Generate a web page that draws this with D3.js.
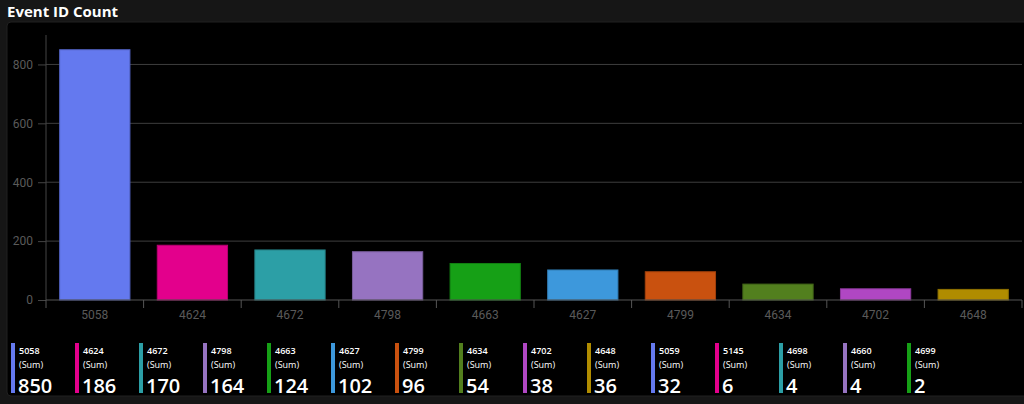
<!DOCTYPE html>
<html>
<head>
<meta charset="utf-8">
<script src="https://cdn.jsdelivr.net/npm/d3@7/dist/d3.min.js"></script>
<style>
  html, body { margin: 0; padding: 0; background: #161616; }
  svg { display: block; font-family: "Open Sans", "Segoe UI", sans-serif; }
</style>
</head>
<body>
<div id="chart"></div>
<script>
const width = 1024,
    height = 404;

// bars
const eventIds = ["5058", "4624", "4672", "4798", "4663", "4627", "4799", "4634", "4702", "4648"];
const counts = [850, 186, 170, 164, 124, 102, 96, 54, 38, 36];
const barColors = ["#6479ef", "#e3008c", "#2c9fa6", "#9673c1", "#16a016", "#3d98dc", "#c9510f", "#527f1e", "#b047c3", "#b08c00"];

// legend cards (top 15)
const cardIds = ["5058", "4624", "4672", "4798", "4663", "4627", "4799", "4634", "4702", "4648", "5059", "5145", "4698", "4660", "4699"];
const cardValues = [850, 186, 170, 164, 124, 102, 96, 54, 38, 36, 32, 6, 4, 4, 2];
const cardColors = ["#6479ef", "#e3008c", "#2c9fa6", "#9673c1", "#16a016", "#3d98dc", "#c9510f", "#527f1e", "#b047c3", "#b08c00",
    "#6479ef", "#e3008c", "#2c9fa6", "#9673c1", "#16a016"];

const yTicks = [0, 200, 400, 600, 800];

const svg = d3.select("#chart").append("svg")
    .attr("width", width)
    .attr("height", height);

// title + panel
svg.append("text")
    .attr("x", 7)
    .attr("y", 17)
    .attr("fill", "#fff")
    .attr("font-size", 15)
    .attr("font-weight", "bold")
    .text("Event ID Count");

svg.append("rect")
    .attr("x", 7)
    .attr("y", 22)
    .attr("width", width + 10)
    .attr("height", 374)
    .attr("rx", 4)
    .attr("fill", "#000")
    .attr("stroke", "#202020");

const x = d3.scaleBand()
    .domain(eventIds)
    .range([46, 1022])
    .padding(0);

const y = d3.scaleLinear()
    .domain([0, 900])
    .range([300, 35]);

// gridlines
svg.append("g")
    .selectAll("line")
    .data(yTicks.slice(1))
    .join("line")
    .attr("x1", 46)
    .attr("x2", 1022)
    .attr("y1", d => y(d))
    .attr("y2", d => y(d))
    .attr("stroke", "#3e3e3e");

// y axis
const yAxis = svg.append("g")
    .attr("transform", "translate(46,0)")
    .call(d3.axisLeft(y).tickValues(yTicks).tickSize(8).tickPadding(5));
yAxis.select(".domain").attr("stroke", "#444").attr("d", "M0,35V300");
yAxis.selectAll(".tick line").attr("stroke", "#444");
yAxis.selectAll(".tick text")
    .attr("fill", "#5a5a5a")
    .attr("font-size", 12)
    .attr("font-family", "Roboto, sans-serif");

// bars
const barW = x.bandwidth() * 0.72;
svg.append("g")
    .selectAll("rect")
    .data(eventIds)
    .join("rect")
    .attr("x", d => x(d) + (x.bandwidth() - barW) / 2)
    .attr("y", (d, i) => y(counts[i]))
    .attr("width", barW)
    .attr("height", (d, i) => y(0) - y(counts[i]))
    .attr("fill", (d, i) => barColors[i])
    .attr("stroke", (d, i) => d3.color(barColors[i]).darker(0.6))
    .attr("stroke-width", 1);

// x axis with ticks at band boundaries
const xAxis = svg.append("g")
    .attr("transform", "translate(0,300)")
    .call(d3.axisBottom(x).tickSize(0).tickPadding(10));
xAxis.select(".domain").attr("stroke", "#555").attr("d", "M46,0H1022");
xAxis.selectAll(".tick text")
    .attr("fill", "#5a5a5a")
    .attr("font-size", 12)
    .attr("font-family", "Roboto, sans-serif");
xAxis.selectAll(".sep")
    .data(eventIds.concat(["end"]))
    .join("line")
    .attr("class", "sep")
    .attr("x1", (d, i) => 46 + i * x.step())
    .attr("x2", (d, i) => 46 + i * x.step())
    .attr("y1", 0)
    .attr("y2", 8)
    .attr("stroke", "#555");

// legend cards
const cards = svg.append("g")
    .selectAll("g")
    .data(cardIds)
    .join("g")
    .attr("transform", (d, i) => `translate(${11 + i * 64},343)`);

cards.append("rect")
    .attr("width", 4)
    .attr("height", 50)
    .attr("fill", (d, i) => cardColors[i]);

cards.append("text")
    .attr("x", 8)
    .attr("y", 11)
    .attr("fill", "#fff")
    .attr("font-size", 9)
    .attr("font-weight", 600)
    .text(d => d);

cards.append("text")
    .attr("x", 8)
    .attr("y", 25)
    .attr("fill", "#fff")
    .attr("font-size", 9)
    .text("(Sum)");

cards.append("text")
    .attr("x", 7)
    .attr("y", 50)
    .attr("fill", "#fff")
    .attr("font-size", 20)
    .attr("font-weight", 600)
    .text((d, i) => cardValues[i]);
</script>
</body>
</html>
